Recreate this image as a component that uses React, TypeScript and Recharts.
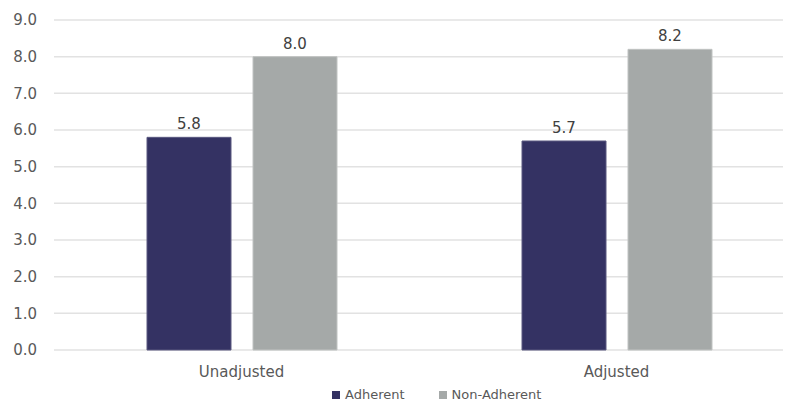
import React from 'react';
import { BarChart, Bar, XAxis, YAxis, CartesianGrid, LabelList } from 'recharts';

const categories = ['Unadjusted', 'Adjusted'];
const adherent = [5.8, 5.7];
const nonAdherent = [8.0, 8.2];
const yTicks = [0, 1, 2, 3, 4, 5, 6, 7, 8, 9];

const data = categories.map((c, i) => ({ name: c, adherent: adherent[i], nonAdherent: nonAdherent[i] }));

const FONT = '"DejaVu Sans", Verdana, sans-serif';
const TEXT = '#595959';

export default function App() {
  return (
    <div style={{ margin: '-8px 0 0 -8px', width: 791, height: 402, overflow: 'hidden', position: 'relative' }}>
      <BarChart
        width={804}
        height={402}
        data={data}
        margin={{ top: 20, right: 0, bottom: 22, left: 0 }}
        barCategoryGap={92}
        barGap={22}
        style={{ fontFamily: FONT }}
      >
        <CartesianGrid vertical={false} stroke="#e2e2e2" strokeWidth={1.5} />
        <XAxis
          dataKey="name"
          height={30}
          axisLine={false}
          tickLine={false}
          tickSize={0}
          tickMargin={16}
          tick={{ fill: TEXT, fontSize: 15, fontFamily: FONT }}
        />
        <YAxis
          width={54}
          domain={[0, 9]}
          ticks={yTicks}
          interval={0}
          axisLine={false}
          tickLine={false}
          tickSize={0}
          tickMargin={17}
          tickFormatter={(v: number) => v.toFixed(1)}
          tick={{ fill: TEXT, fontSize: 15, fontFamily: FONT }}
        />
        <Bar dataKey="adherent" fill="#343263" stroke="#5a5880" strokeWidth={1} barSize={84} isAnimationActive={false}>
          <LabelList dataKey="adherent" position="top" offset={8} formatter={(v: number) => v.toFixed(1)} style={{ fill: '#404040', fontSize: 15, fontFamily: FONT }} />
        </Bar>
        <Bar dataKey="nonAdherent" fill="#a5a9a8" stroke="#c0c3c2" strokeWidth={1} barSize={84} isAnimationActive={false}>
          <LabelList dataKey="nonAdherent" position="top" offset={8} formatter={(v: number) => v.toFixed(1)} style={{ fill: '#404040', fontSize: 15, fontFamily: FONT }} />
        </Bar>
      </BarChart>
      <div style={{ position: 'absolute', top: 387, left: 332, display: 'flex', alignItems: 'center', fontFamily: FONT, fontSize: 13, color: TEXT }}>
        <span style={{ display: 'inline-block', width: 8, height: 8, background: '#343263', marginRight: 5 }} />
        <span style={{ marginRight: 34 }}>Adherent</span>
        <span style={{ display: 'inline-block', width: 8, height: 8, background: '#a5a9a8', marginRight: 5 }} />
        <span>Non-Adherent</span>
      </div>
    </div>
  );
}
